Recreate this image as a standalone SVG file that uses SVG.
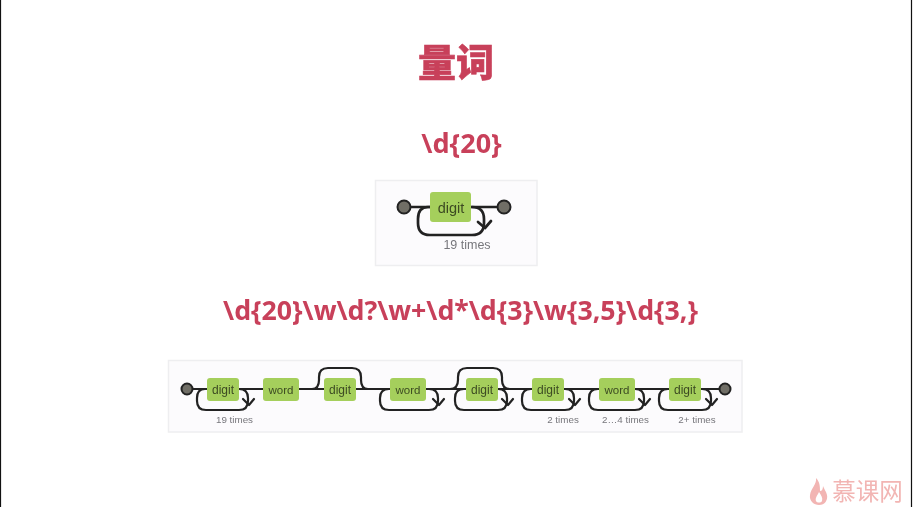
<svg xmlns="http://www.w3.org/2000/svg" width="913" height="507" viewBox="0 0 913 507">
<style>
.h{font-family:"Noto Sans CJK SC","Noto Sans",sans-serif;font-weight:900;fill:#c8405a;stroke:#c8405a;stroke-width:0.6}
.f{font-family:"Noto Sans","Noto Sans CJK SC",sans-serif;font-weight:700;fill:#c8405a}
.panel{fill:#fcfbfd;stroke:#eeeef0;stroke-width:1.5}
.box{fill:#a5cf5c}
.w{fill:none;stroke:#222;stroke-width:2.200;stroke-linecap:round;stroke-linejoin:round}
.x{stroke-width:2.700}
.end{fill:#706e66;stroke:#222;stroke-width:2}
.t{font-family:"Liberation Sans",Arial,sans-serif;fill:#3c4a22;text-anchor:middle}
.c{font-family:"Liberation Sans",Arial,sans-serif;fill:#77777c;text-anchor:middle}
</style>
<defs>
<filter id="b" x="-5%" y="-5%" width="110%" height="110%"><feGaussianBlur stdDeviation="0.6"/></filter>
<filter id="s" x="-5%" y="-5%" width="110%" height="110%"><feGaussianBlur stdDeviation="0.4"/></filter>
</defs>
<rect width="913" height="507" fill="#fff"/>
<path d="M0.5 0V507M911.5 0V507" stroke="#111" stroke-width="1.2" fill="none"/>
<g filter="url(#s)">
<text id="title" class="h" x="456" y="76" font-size="38" text-anchor="middle">量词</text>
<text id="regex1" class="f" x="461.500" y="153" font-size="27" text-anchor="middle">\d{20}</text>
<text id="regex2" class="f" x="460.500" y="320" font-size="26.700" text-anchor="middle">\d{20}\w\d?\w+\d*\d{3}\w{3,5}\d{3,}</text>
</g>
<g filter="url(#b)">
<rect id="panel1" class="panel" x="375.500" y="180.500" width="161.500" height="85"/>
<rect id="panel2" class="panel" x="168.500" y="360.500" width="573.500" height="71.500"/>
<g id="connectors1">
<path class="w x" d="M404 207H504"/>
<path class="w x" d="M430 207H428Q418 207 418 219V223Q418 235 430 235H472Q484 235 484 223V219Q484 207 472 207"/>
<path class="w x" d="M478 222L485 228L491 221"/>
</g>
<g id="connectors2">
<path class="w" d="M187 389H725"/>
<path class="w" d="M207 389H205Q197 389 197 398V401Q197 410 206 410H239Q248 410 248 401V398Q248 389 239 389"/>
<path class="w" d="M243 399L249 405L254 399"/>
<path class="w" d="M312 389Q319 389 319 380V377Q319 368 328 368H352Q361 368 361 377V380Q361 389 368 389"/>
<path class="w" d="M390 389H389Q380 389 380 398V401Q380 410 389 410H429Q438 410 438 401V398Q438 389 429 389"/>
<path class="w" d="M433 399L439 405L444 399"/>
<path class="w" d="M450 389Q458 389 458 380V377Q458 368 467 368H493Q502 368 502 377V380Q502 389 510 389"/>
<path class="w" d="M466 389H464Q455 389 455 398V401Q455 410 464 410H498Q507 410 507 401V398Q507 389 498 389"/>
<path class="w" d="M502 399L508 405L513 399"/>
<path class="w" d="M532 389H531Q522 389 522 398V401Q522 410 531 410H565Q574 410 574 401V398Q574 389 565 389"/>
<path class="w" d="M569 399L575 405L580 399"/>
<path class="w" d="M599 389H598Q589 389 589 398V401Q589 410 598 410H635Q644 410 644 401V398Q644 389 635 389"/>
<path class="w" d="M639 399L645 405L650 399"/>
<path class="w" d="M669 389H668Q659 389 659 398V401Q659 410 668 410H702Q711 410 711 401V398Q711 389 702 389"/>
<path class="w" d="M706 399L712 405L717 399"/>
</g>
<g id="d1-start"><circle class="end" cx="404" cy="207" r="6.500"/></g>
<g id="d1-end"><circle class="end" cx="504" cy="207" r="6.500"/></g>
<g id="d1-digit"><rect class="box" x="430" y="192" width="41" height="30" rx="3"/><text class="t" x="451" y="213" font-size="14.500">digit</text></g>
<text id="d1-label" class="c" x="467" y="249" font-size="12.500">19 times</text>
<g id="d2-start"><circle class="end" cx="187" cy="389" r="5.500"/></g>
<g id="d2-end"><circle class="end" cx="725" cy="389" r="5.500"/></g>
<g id="n1"><rect class="box" x="207" y="378" width="32" height="23" rx="3"/><text class="t" x="223" y="394" font-size="12">digit</text></g>
<g id="n2"><rect class="box" x="263" y="378" width="36" height="23" rx="3"/><text class="t" x="281" y="394" font-size="11.500">word</text></g>
<g id="n3"><rect class="box" x="324" y="378" width="32" height="23" rx="3"/><text class="t" x="340" y="394" font-size="12">digit</text></g>
<g id="n4"><rect class="box" x="390" y="378" width="36" height="23" rx="3"/><text class="t" x="408" y="394" font-size="11.500">word</text></g>
<g id="n5"><rect class="box" x="466" y="378" width="32" height="23" rx="3"/><text class="t" x="482" y="394" font-size="12">digit</text></g>
<g id="n6"><rect class="box" x="532" y="378" width="32" height="23" rx="3"/><text class="t" x="548" y="394" font-size="12">digit</text></g>
<g id="n7"><rect class="box" x="599" y="378" width="36" height="23" rx="3"/><text class="t" x="617" y="394" font-size="11.500">word</text></g>
<g id="n8"><rect class="box" x="669" y="378" width="32" height="23" rx="3"/><text class="t" x="685" y="394" font-size="12">digit</text></g>
<text class="c" x="234.500" y="423" font-size="9.800">19 times</text>
<text class="c" x="563" y="423" font-size="9.800">2 times</text>
<text class="c" x="625.500" y="423" font-size="9.800">2…4 times</text>
<text class="c" x="697" y="423" font-size="9.800">2+ times</text>
</g>
<g id="watermark" filter="url(#s)">
<path d="M816 478C817 484 811 488 810 495C809 501 814 505 819 505C825 505 828 500 827 495C826 491 824 489 823 486C823 489 822 491 820 491C820 487 820 482 816 478ZM819 492C817 496 815 498 816 501C817 503 821 503 822 501C823 498 821 495 819 492Z" fill="#f2b5b3" fill-rule="evenodd"/>
<text x="867.500" y="500" font-size="23.500" text-anchor="middle" fill="#f2b5b3" font-family="Noto Sans CJK SC,sans-serif">慕课网</text>
</g>
</svg>
